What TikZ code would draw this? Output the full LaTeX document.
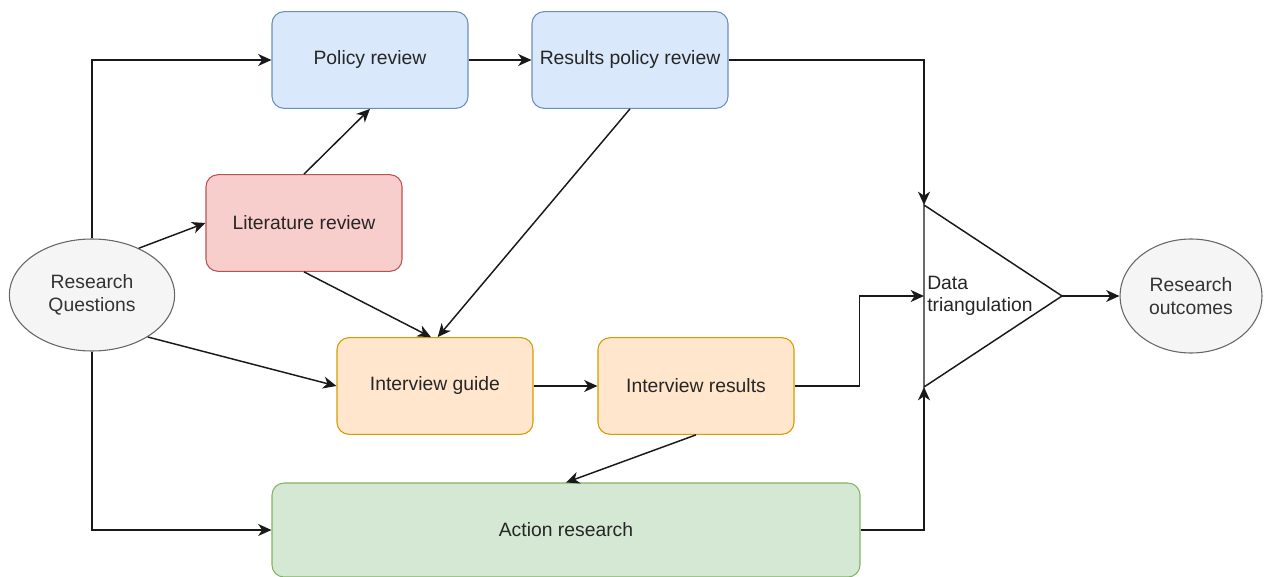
\documentclass[tikz,border=0pt]{standalone}
\usepackage{fontspec}
\setmainfont{Liberation Sans}
\usepackage{xcolor}
\usepackage{tikz}
\usetikzlibrary{arrows.meta,positioning,shapes.geometric}

\definecolor{bluefill}{HTML}{DAE8FC}
\definecolor{bluedraw}{HTML}{6C8EBF}
\definecolor{redfill}{HTML}{F8CECC}
\definecolor{reddraw}{HTML}{B85450}
\definecolor{orangefill}{HTML}{FFE6CC}
\definecolor{orangedraw}{HTML}{D79B00}
\definecolor{greenfill}{HTML}{D5E8D4}
\definecolor{greendraw}{HTML}{82B366}
\definecolor{grayfill}{HTML}{F5F5F5}
\definecolor{graydraw}{HTML}{666666}
\definecolor{graytext}{HTML}{333333}

\begin{document}
\begin{tikzpicture}[
    x=0.75pt, y=-0.75pt,
    every node/.style={font=\fontsize{14.5}{17}\selectfont},
    box/.style={rectangle, rounded corners=9pt, draw, line width=0.8pt, text=black!85, align=center, minimum width=147pt, minimum height=72.5pt, inner sep=0pt},
    bluebox/.style={box, fill=bluefill, draw=bluedraw},
    redbox/.style={box, fill=redfill, draw=reddraw},
    orangebox/.style={box, fill=orangefill, draw=orangedraw},
    greenbox/.style={box, fill=greenfill, draw=greendraw},
    oval/.style={ellipse, draw=graydraw, fill=grayfill, line width=0.8pt, text=graytext, align=center, inner sep=0pt},
    link/.style={draw=black!90, line width=1.1pt, -{Stealth[length=10pt,width=9pt,inset=3pt]}}
]
\useasboundingbox (0,0) rectangle (1281,577);

% Start and end
\node[oval, minimum width=124pt, minimum height=84pt] (rq) at (92,295) {Research\\Questions};
\node[oval, minimum width=106.5pt, minimum height=85.5pt] (outcomes) at (1191,296) {Research\\outcomes};

% Reviews
\node[bluebox] (policy) at (370,60) {Policy review};
\node[bluebox] (respolicy) at (630,60) {Results policy review};
\node[redbox] (lit) at (304,223) {Literature review};

% Interviews
\node[orangebox] (guide) at (435,386) {Interview guide};
\node[orangebox] (intres) at (696,386) {Interview results};

% Action research
\node[greenbox, minimum width=441pt, minimum height=70.5pt] (action) at (566,530) {Action research};

% Data triangulation
\coordinate (tritop) at (924,205);
\coordinate (tribot) at (924,387);
\coordinate (trimid) at (924,296);
\coordinate (triapex) at (1062,296);
\draw[line width=1.1pt, black!90] (tritop) -- (triapex) -- (tribot) -- cycle;
\node[anchor=west, align=left, text=black!85, inner sep=0pt] (tri) at (927,296) {Data\\triangulation};

% Connectors
\draw[link] (rq.north) |- (policy.west);
\draw[link] (rq.45) -- (lit.west);
\draw[link] (rq.-37) -- (guide.west);
\draw[link] (rq.south) |- (action.west);
\draw[link] (lit.north) -- (policy.south);
\draw[link] (lit.south) -- ([xshift=-3pt]guide.north);
\draw[link] (respolicy.south) -- ([xshift=2pt]guide.north);
\draw[link] (policy.east) -- (respolicy.west);
\draw[link] (guide.east) -- (intres.west);
\draw[link] (intres.south) -- (action.north);
\draw[link] (respolicy.east) -| (tritop);
\draw[link] (intres.east) -- ++(65,0) |- (trimid);
\draw[link] (action.east) -| (tribot);
\draw[link] (triapex) -- (outcomes.west);

\end{tikzpicture}
\end{document}
